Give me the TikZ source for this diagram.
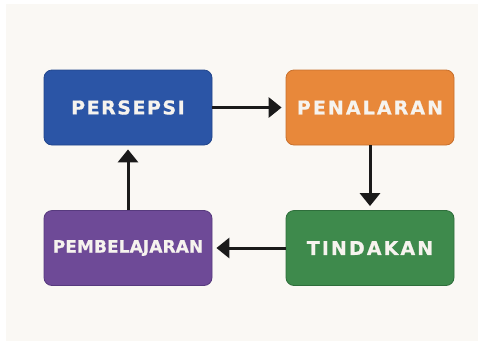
\documentclass[tikz,border=0pt]{standalone}
\usepackage{fontspec}
\setmainfont{DejaVu Sans}
\newfontfamily\boxfontA[LetterSpace=8,FakeBold=0.8]{DejaVu Sans Bold}
\newfontfamily\boxfontB[LetterSpace=11,FakeBold=0.8]{DejaVu Sans Bold}
\newfontfamily\boxfontC[LetterSpace=0.5,FakeBold=0.8]{DejaVu Sans Bold}
\usetikzlibrary{arrows.meta}
\definecolor{bgc}{HTML}{FAF8F4}
\definecolor{blueF}{HTML}{2B55A6}\definecolor{blueD}{HTML}{22468C}
\definecolor{oranF}{HTML}{E8883A}\definecolor{oranD}{HTML}{C8702C}
\definecolor{greenF}{HTML}{3E8A4C}\definecolor{greenD}{HTML}{2E6E3B}
\definecolor{purpF}{HTML}{6E4A97}\definecolor{purpD}{HTML}{573A7E}
\definecolor{txt}{HTML}{F6F3EE}
\definecolor{arr}{HTML}{1A1A1A}
\tikzset{
  stagebox/.style={draw=#1, line width=0.8pt, rounded corners=8pt,
    minimum width=168pt, minimum height=75pt, inner sep=0pt,
    text=txt, font=\boxfontA\fontsize{19}{22}\selectfont},
  flow/.style={draw=arr, line width=3pt, shorten >=4pt,
    -{Triangle[length=13pt,width=20pt]}}
}
\begin{document}
\begin{tikzpicture}[x=1pt,y=-1pt]
\useasboundingbox (0,0) rectangle (484,346);
\fill[white] (0,0) rectangle (484,346);
\fill[bgc] (6,4) rectangle (478,341);
\node[stagebox=blueD, fill=blueF] (per) at (128,107.5) {PERSEPSI};
\node[stagebox=oranD, fill=oranF, font=\boxfontB\fontsize{19}{22}\selectfont] (pen) at (370,107.5) {PENALARAN};
\node[stagebox=greenD, fill=greenF, font=\boxfontB\fontsize{19}{22}\selectfont] (tin) at (370,248) {TINDAKAN};
\node[stagebox=purpD, fill=purpF, font=\boxfontC\fontsize{17}{20}\selectfont] (pem) at (128,248) {PEMBELAJARAN};
\draw[flow] (per.east) -- (pen.west);
\draw[flow] (pen.south) -- (tin.north);
\draw[flow] (tin.west) -- (pem.east);
\draw[flow] (pem.north) -- (per.south);
\end{tikzpicture}
\end{document}
